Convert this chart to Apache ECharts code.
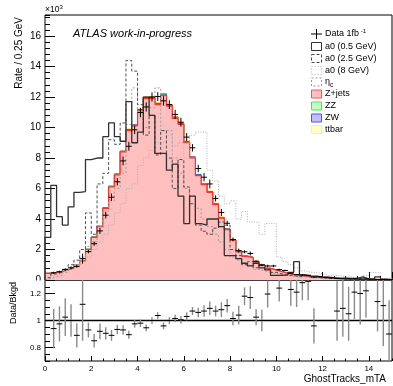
<!DOCTYPE html>
<html>
<head>
<meta charset="utf-8">
<script src="https://cdn.jsdelivr.net/npm/echarts@6/dist/echarts.min.js"></script>
<style>
  html, body { margin: 0; padding: 0; background: #fff; }
  #chart { width: 393px; height: 386px; }
</style>
</head>
<body>
<div id="chart"></div>
<script>
// bins of 0.25 GeV from 0 to 15 (60 bins), values in units of 10^3
const binWidth = 0.25;
const zjets = [0.44, 0.5, 0.55, 0.67, 0.8, 1.0, 1.25, 2.0, 2.8, 3.5, 4.7, 6.1, 6.9, 8.4, 9.8, 10.1, 11.1, 11.9, 11.9, 11.5,
  12.1, 11.4, 10.6, 10.2, 9.0, 8.0, 6.85, 6.25, 5.75, 4.95, 4.05, 3.3, 2.6, 1.84, 1.55, 1.47, 1.19, 0.97, 0.76, 0.65,
  0.54, 0.43, 0.35, 0.29, 0.25, 0.23, 0.19, 0.15, 0.12, 0.1, 0.09, 0.08, 0.07, 0.06, 0.05, 0.05, 0.04, 0.03, 0.03, 0.02];
const zz = [0, 0, 0, 0, 0, 0, 0.01, 0.01, 0.01, 0.01, 0.02, 0.02, 0.02, 0.02, 0.03, 0.03, 0.03, 0.03, 0.03, 0.03,
  0.04, 0.03, 0.03, 0.03, 0.03, 0.03, 0.02, 0.02, 0.02, 0.02, 0.02, 0.02, 0.01, 0.01, 0.01, 0.01, 0.01, 0.01, 0, 0,
  0, 0, 0, 0, 0, 0, 0, 0, 0, 0, 0, 0, 0, 0, 0, 0, 0, 0, 0, 0];
const zw = [0, 0, 0, 0, 0, 0, 0.01, 0.01, 0.01, 0.02, 0.02, 0.03, 0.03, 0.03, 0.04, 0.04, 0.05, 0.05, 0.05, 0.05,
  0.05, 0.05, 0.05, 0.04, 0.04, 0.04, 0.04, 0.03, 0.03, 0.03, 0.03, 0.03, 0.02, 0.02, 0.01, 0.01, 0.01, 0.01, 0.01, 0.01,
  0.01, 0.01, 0, 0, 0, 0, 0, 0, 0, 0, 0, 0, 0, 0, 0, 0, 0, 0, 0, 0];
const ttbar = [0, 0, 0, 0, 0, 0, 0.01, 0.01, 0.01, 0.01, 0.01, 0.02, 0.02, 0.02, 0.03, 0.03, 0.03, 0.04, 0.04, 0.04,
  0.05, 0.04, 0.04, 0.04, 0.04, 0.04, 0.03, 0.03, 0.03, 0.03, 0.03, 0.03, 0.02, 0.02, 0.02, 0.02, 0.02, 0.01, 0.01, 0.01,
  0.01, 0.01, 0.01, 0.01, 0.01, 0.01, 0, 0, 0, 0, 0, 0, 0, 0, 0, 0, 0, 0, 0, 0];

const a0_05 = [2.8, 6.2, 4.15, 3.6, 4.8, 5.75, 5.8, 7.9, 8.0, 8.0, 9.4, 10.3, 9.4, 9.1, 11.7, 9.0, 9.7, 12.0, 10.8, 8.3,
  8.3, 7.2, 7.6, 5.5, 3.7, 5.5, 3.7, 3.6, 4.0, 4.0, 3.5, 1.6, 1.6, 1.4, 1.1, 0.93, 1.1, 0.8, 0.66, 0.3,
  0.3, 0.33, 0.5, 1.2, 0.33, 0.26, 0.26, 0.2, 0.18, 0.15, 0.12, 0.12, 0.1, 0.1, 0.2, 0.08, 0.06, 0.2, 0.05, 0.03];
const a0_25 = [0.15, 0.4, 0.5, 0.7, 1.0, 1.3, 2.0, 4.4, 3.0, 6.3, 7.0, 9.2, 8.9, 10.3, 14.4, 13.7, 11.5, 9.5, 10.8, 8.2,
  9.8, 8.0, 6.0, 7.9, 6.1, 5.0, 3.6, 3.2, 3.0, 3.4, 3.8, 3.6, 2.0, 1.6, 1.0, 1.2, 0.8, 1.0, 0.7, 0.5,
  0.4, 0.3, 0.3, 0.2, 0.3, 0.2, 0.2, 0.15, 0.1, 0.1, 0.1, 0.05, 0.05, 0.05, 0.05, 0.05, 0, 0, 0, 0];
const a0_8 = [0.1, 0.3, 0.4, 0.6, 0.8, 1.0, 1.3, 1.5, 2.0, 2.5, 3.0, 3.6, 4.4, 5.0, 6.0, 6.3, 7.5, 8.0, 8.5, 9.0,
  9.0, 9.5, 8.8, 9.0, 8.0, 9.5, 9.7, 9.7, 7.2, 6.5, 5.5, 5.0, 5.2, 4.0, 4.5, 3.8, 3.8, 3.0, 3.7, 3.7,
  1.5, 1.2, 1.0, 0.8, 0.6, 0.5, 0.5, 0.4, 0.3, 0.3, 0.3, 0.2, 0.2, 0.15, 0.15, 0.3, 0.5, 0.5, 0.1, 0.1];
const etac = [0.1, 0.2, 0.3, 0.5, 0.7, 1.0, 1.5, 2.2, 2.5, 3.5, 4.5, 5.2, 6.0, 7.0, 10.2, 12.6, 11.0, 10.0, 11.3, 12.6,
  9.8, 9.8, 8.0, 7.0, 6.0, 5.5, 4.7, 4.0, 3.5, 3.0, 2.5, 2.0, 1.5, 1.3, 1.0, 0.9, 0.7, 0.6, 0.5, 0.4,
  0.35, 0.3, 0.25, 0.2, 0.2, 0.15, 0.15, 0.1, 0.1, 0.1, 0.08, 0.08, 0.06, 0.06, 0.05, 0.05, 0.04, 0.04, 0.03, 0.03];

const dataVals = [null, 0.47, 0.54, 0.69, 0.8, 0.89, 1.4, 1.86, 2.38, 3.22, 4.25, 5.43, 6.44, 7.81, 8.77, 9.85, 10.98, 11.35, 12.0, 12.03,
  11.75, 11.5, 10.86, 10.35, 9.37, 8.67, 7.31, 6.74, 6.3, 5.35, 4.43, 3.72, 2.66, 1.93, 1.85, 1.74, 1.23, 0.98, 0.92, 0.92,
  0.68, 0.62, 0.44, 0.36, 0.33, 0.31, 0.19, 0.21, 0.18, 0.14, 0.096, 0.087, 0.074, 0.073, 0.06, 0.061, 0.056, 0.034, 0.033, 0.018];
const dataErr = [0, 0.07, 0.07, 0.09, 0.1, 0.09, 0.33, 0.11, 0.14, 0.2, 0.21, 0.24, 0.24, 0.29, 0.29, 0.28, 0.31, 0.3, 0.3, 0.29,
  0.31, 0.29, 0.3, 0.29, 0.27, 0.24, 0.24, 0.27, 0.29, 0.2, 0.23, 0.17, 0.13, 0.13, 0.1, 0.13, 0.07, 0.08, 0.08, 0.08,
  0.055, 0.05, 0.043, 0.033, 0.034, 0.034, 0.026, 0.03, 0.03, 0.025, 0.02, 0.017, 0.014, 0.012, 0.012, 0.01, 0.01, 0.007, 0.009, 0.005];

const ratio = [null, 0.94, 0.975, 1.025, 1.0, 0.89, 1.12, 0.93, 0.85, 0.92, 0.905, 0.89, 0.934, 0.93, 0.895, 0.975, 0.98, 0.946, 1.0, 1.037,
  0.96, 1.0, 1.015, 1.005, 1.03, 1.07, 1.06, 1.07, 1.09, 1.07, 1.08, 1.11, 1.015, 1.04, 1.18, 1.17, 1.025, 1.0, 1.196, null,
  1.24, null, 1.23, 1.21, 1.28, 1.29, 0.96, null, null, null, 1.07, 1.09, 1.05, 1.21, 1.2, 1.22, null, 1.14, 1.11, 0.9];
const ratioErr = [0, 0.145, 0.13, 0.14, 0.12, 0.09, 0.27, 0.055, 0.05, 0.058, 0.045, 0.04, 0.035, 0.035, 0.03, 0.028, 0.028, 0.025, 0.025, 0.025,
  0.025, 0.025, 0.028, 0.028, 0.03, 0.03, 0.035, 0.043, 0.05, 0.04, 0.055, 0.05, 0.05, 0.07, 0.065, 0.085, 0.06, 0.08, 0.1, 0,
  0.1, 0, 0.12, 0.11, 0.13, 0.14, 0.13, 0, 0, 0, 0.22, 0.21, 0.2, 0.2, 0.23, 0.2, 0, 0.22, 0.3, 0.25];

const legendLabels = ['Data 1fb', 'a0 (0.5 GeV)', 'a0 (2.5 GeV)', 'a0 (8 GeV)', 'η', 'Z+jets', 'ZZ', 'ZW', 'ttbar'];

const FONT = '"Liberation Sans", Arial, Helvetica, sans-serif';

// histogram outline: [edge, content] points for a step line
function steps(vals) {
  const pts = [[0, 0]];
  vals.forEach((v, i) => pts.push([i * binWidth, v]));
  pts.push([vals.length * binWidth, vals[vals.length - 1]]);
  pts.push([vals.length * binWidth, 0]);
  return pts;
}

// stack sums
const s1 = zjets;
const s2 = zjets.map((v, i) => v + zz[i]);
const s3 = s2.map((v, i) => v + zw[i]);
const s4 = s3.map((v, i) => v + ttbar[i]);

function points(vals, errs) {
  const out = [];
  vals.forEach((v, i) => {
    if (v !== null) out.push([(i + 0.5) * binWidth, v, errs[i]]);
  });
  return out;
}

function makeCross(barColor, barWidth) {
  return function (params, api) {
    const x = api.value(0), y = api.value(1), e = api.value(2);
    const l = api.coord([x - binWidth / 2, y]);
    const r = api.coord([x + binWidth / 2, y]);
    const t = api.coord([x, y + e]);
    const b = api.coord([x, y - e]);
    return {
      type: 'group',
      children: [
        { type: 'line', shape: { x1: t[0], y1: t[1], x2: b[0], y2: b[1] }, style: { stroke: barColor, lineWidth: barWidth } },
        { type: 'line', shape: { x1: l[0], y1: l[1], x2: r[0], y2: r[1] }, style: { stroke: '#000', lineWidth: 1 } }
      ]
    };
  };
}

function histArea(vals, fill, line, width, z) {
  return {
    type: 'line', xAxisIndex: 0, yAxisIndex: 0, step: 'end', symbol: 'none', silent: true,
    data: steps(vals), z: z,
    lineStyle: { color: line, width: width },
    areaStyle: { color: fill, opacity: 1 }
  };
}

function histLine(vals, color, type, width) {
  return {
    type: 'line', xAxisIndex: 0, yAxisIndex: 0, step: 'end', symbol: 'none', silent: true,
    data: steps(vals), z: 5,
    lineStyle: { color: color, width: width, type: type }
  };
}

const chart = echarts.init(document.getElementById('chart'), null, { renderer: 'canvas' });

const tickFont = { fontFamily: FONT, color: '#000' };

// legend drawn as graphic elements
const legendY = [34, 46.5, 58.5, 70.5, 82, 94, 106, 118, 129.5];
const legendGraphics = [];
const boxStyles = [
  null,
  { stroke: '#333', lineDash: null, fill: '#fff' },
  { stroke: '#444', lineDash: [3, 2], fill: '#fff' },
  { stroke: '#aaa', lineDash: [1, 2], fill: '#fff' },
  { stroke: '#999', lineDash: [2, 2], fill: '#fff' },
  { stroke: '#ff5050', lineDash: null, fill: '#ffbfbf' },
  { stroke: '#50e050', lineDash: null, fill: '#bfffbf' },
  { stroke: '#5050ff', lineDash: null, fill: '#bfbfff' },
  { stroke: '#ffff40', lineDash: null, fill: '#ffffbf' }
];
legendLabels.forEach((lab, i) => {
  const y = legendY[i];
  if (i === 0) {
    legendGraphics.push({ type: 'line', shape: { x1: 311, y1: y, x2: 322, y2: y }, style: { stroke: '#000', lineWidth: 1 }, z: 110 });
    legendGraphics.push({ type: 'line', shape: { x1: 316.5, y1: y - 5, x2: 316.5, y2: y + 5 }, style: { stroke: '#000', lineWidth: 1 }, z: 110 });
  } else {
    const st = boxStyles[i];
    legendGraphics.push({
      type: 'rect', shape: { x: 311.5, y: y - 4, width: 10, height: 8 },
      style: { fill: st.fill, stroke: st.stroke, lineWidth: 1, lineDash: st.lineDash }, z: 110
    });
  }
  let rich = null, text = lab;
  if (i === 0) { text = lab + '{sup| -1}'; rich = { sup: { fontSize: 6, verticalAlign: 'top', padding: [0, 0, 6, 0], fontFamily: FONT } }; }
  if (i === 4) { text = lab + '{sub|c}'; rich = { sub: { fontSize: 6.5, padding: [7, 0, 0, 0], fontFamily: FONT } }; }
  legendGraphics.push({
    type: 'text', x: 325, y: y, z: 110,
    style: { text: text, rich: rich || undefined, fontSize: 9, fontFamily: FONT, fill: '#000', verticalAlign: 'middle', align: 'left' }
  });
});

const option = {
  animation: false,
  backgroundColor: '#fff',
  grid: [
    { left: 45, top: 15, width: 347, height: 265, show: true, borderColor: '#000', borderWidth: 1, backgroundColor: 'transparent' },
    { left: 45, top: 280, width: 347, height: 81, show: true, borderColor: '#000', borderWidth: 1, backgroundColor: 'transparent' }
  ],
  xAxis: [
    { gridIndex: 0, type: 'value', min: 0, max: 15, interval: 2, axisLine: { show: false }, splitLine: { show: false },
      axisLabel: { show: false }, axisTick: { inside: true, length: 8, lineStyle: { color: '#000' } } },
    { gridIndex: 0, type: 'value', min: 0, max: 15, interval: 0.5, position: 'bottom', axisLine: { show: false }, splitLine: { show: false },
      axisLabel: { show: false }, axisTick: { inside: true, length: 4, lineStyle: { color: '#000' } } },
    { gridIndex: 1, type: 'value', min: 0, max: 15, interval: 2, axisLine: { show: false }, splitLine: { show: false },
      axisLabel: { ...tickFont, fontSize: 8, margin: 4, showMaxLabel: false }, axisTick: { inside: true, length: 5, lineStyle: { color: '#000' } } },
    { gridIndex: 1, type: 'value', min: 0, max: 15, interval: 0.5, position: 'bottom', axisLine: { show: false }, splitLine: { show: false },
      axisLabel: { show: false }, axisTick: { inside: true, length: 2.5, lineStyle: { color: '#000' } } }
  ],
  yAxis: [
    { gridIndex: 0, type: 'value', min: 0, max: 17.38, interval: 2, axisLine: { show: false }, splitLine: { show: false },
      axisLabel: { ...tickFont, fontSize: 10, margin: 4, showMaxLabel: false }, axisTick: { inside: true, length: 10, lineStyle: { color: '#000' } } },
    { gridIndex: 0, type: 'value', min: 0, max: 17.38, interval: 0.4, position: 'left', axisLine: { show: false }, splitLine: { show: false },
      axisLabel: { show: false }, axisTick: { inside: true, length: 5, lineStyle: { color: '#000' } } },
    { gridIndex: 1, type: 'value', min: 0.7, max: 1.3, axisLine: { show: false }, splitLine: { show: false },
      axisLabel: { ...tickFont, fontSize: 8, margin: 4, customValues: [0.8, 1, 1.2], formatter: v => String(Math.round(v * 10) / 10) },
      axisTick: { inside: true, length: 10, customValues: [0.8, 1, 1.2], lineStyle: { color: '#000' } } },
    { gridIndex: 1, type: 'value', min: 0.7, max: 1.3, interval: 0.05, position: 'left', axisLine: { show: false }, splitLine: { show: false },
      axisLabel: { show: false }, axisTick: { inside: true, length: 5, lineStyle: { color: '#000' } } }
  ],
  series: [
    histArea(s4, '#ffffbf', '#ffd000', 1, 1),
    histArea(s3, '#bfbfff', '#3030ff', 1, 1.1),
    histArea(s2, '#bfffbf', '#30d030', 1, 1.2),
    histArea(s1, '#ffbfbf', '#ff3030', 1.2, 1.3),
    histLine(etac, '#a0a0a0', [2, 2], 1),
    histLine(a0_8, '#b0b0b0', [1, 1.5], 1),
    histLine(a0_25, '#505050', [3, 2], 1),
    histLine(a0_05, '#303030', 'solid', 1.3),
    { type: 'custom', xAxisIndex: 0, yAxisIndex: 0, renderItem: makeCross('#000', 1), data: points(dataVals, dataErr), z: 10, clip: true, silent: true },
    { type: 'line', xAxisIndex: 2, yAxisIndex: 2, symbol: 'none', silent: true, data: [[0, 1], [15, 1]],
      lineStyle: { color: '#000', width: 1.6 }, z: 5 },
    { type: 'custom', xAxisIndex: 2, yAxisIndex: 2, renderItem: makeCross('#8a8a8a', 1.4), data: points(ratio, ratioErr), z: 10, clip: true, silent: true }
  ],
  graphic: [
    { type: 'rect', shape: { x: 28, y: 280.5, width: 16, height: 8 }, style: { fill: '#fff' }, z: 100 },
    { type: 'text', x: 45, y: 10, z: 110,
      style: { text: '×10{sup|3}', rich: { sup: { fontSize: 6, padding: [0, 0, 5, 0], fontFamily: FONT } }, fontSize: 8.5, fontFamily: FONT, fill: '#000', verticalAlign: 'middle' } },
    { type: 'text', x: 73, y: 34, z: 110,
      style: { text: 'ATLAS work-in-progress', fontSize: 11, fontStyle: 'italic', fontFamily: FONT, fill: '#000', verticalAlign: 'middle' } },
    { type: 'text', x: 19, y: 17, rotation: Math.PI / 2, z: 110,
      style: { text: 'Rate / 0.25 GeV', fontSize: 10, fontFamily: FONT, fill: '#000', align: 'right', verticalAlign: 'middle' } },
    { type: 'text', x: 14, y: 282, rotation: Math.PI / 2, z: 110,
      style: { text: 'Data/Bkgd', fontSize: 9, fontFamily: FONT, fill: '#000', align: 'right', verticalAlign: 'middle' } },
    { type: 'text', x: 386, y: 379, z: 110,
      style: { text: 'GhostTracks_mTA', fontSize: 10, fontFamily: FONT, fill: '#000', align: 'right', verticalAlign: 'middle' } },
    ...legendGraphics
  ]
};

chart.setOption(option);
</script>
</body>
</html>
